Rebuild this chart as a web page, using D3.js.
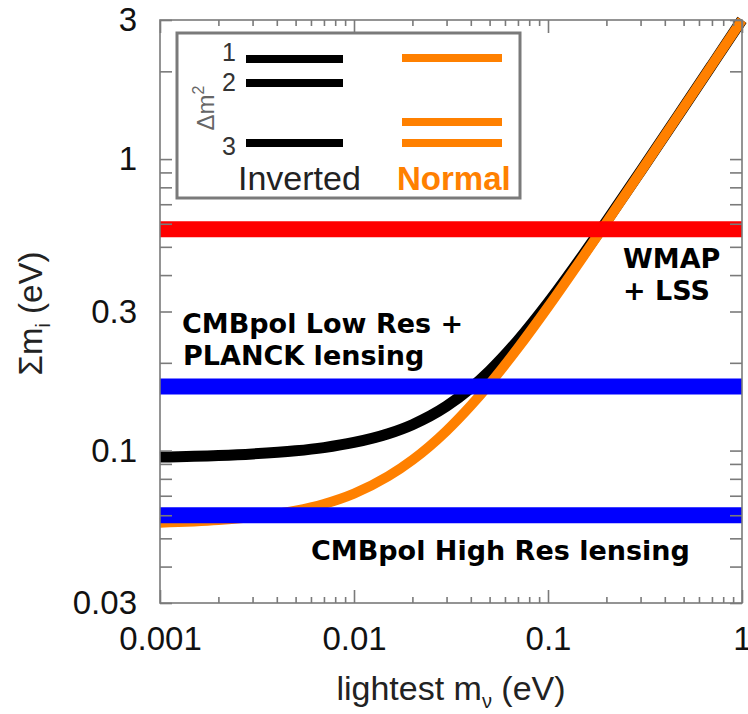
<!DOCTYPE html>
<html><head><meta charset="utf-8">
<script src="https://cdn.jsdelivr.net/npm/d3@7"></script>
<style>
body{margin:0;background:#fff;}
svg{display:block;}
</style></head>
<body>
<svg id="chart" width="748" height="714"></svg>
<script>
// ---- data ----
const lightestMass = [0.001,0.002,0.003,0.005,0.007,0.01,0.015,0.02,0.03,0.04,0.05,0.07,0.1,0.15,0.2,0.3,0.5,0.7,1];
const sumNormal    = [0.0566,0.0578,0.0592,0.0622,0.0656,0.0712,0.0816,0.0928,0.1169,0.1426,0.1693,0.2248,0.3108,0.4574,0.6056,0.9038,1.5023,2.103,3.002];
const sumInverted  = [0.0950,0.0962,0.0974,0.0998,0.1024,0.1066,0.1142,0.1227,0.1420,0.1639,0.1877,0.2390,0.3212,0.4646,0.6110,0.9074,1.5045,2.1032,3.0022];

const bandNames  = ["WMAP + LSS","CMBpol Low Res + PLANCK lensing","CMBpol High Res lensing"];
const bandValues = [0.575, 0.166, 0.060];
const bandColors = ["#ff0000","#0000ff","#0000ff"];

const xMajorTicks = [0.001,0.01,0.1,1];
const xTickLabels = ["0.001","0.01","0.1","1"];
const xMinorTicks = [0.002,0.003,0.004,0.005,0.006,0.007,0.008,0.009,
                     0.02,0.03,0.04,0.05,0.06,0.07,0.08,0.09,
                     0.2,0.3,0.4,0.5,0.6,0.7,0.8,0.9];
const yTicks = [0.03,0.04,0.05,0.06,0.07,0.08,0.09,0.1,0.2,0.3,0.4,0.5,0.6,0.7,0.8,0.9,1,2,3];
const yLabelTicks = [0.03,0.1,0.3,1,3];
const yTickLabels = ["0.03","0.1","0.3","1","3"];

// ---- layout ----
const L=160, R=742, T=20, B=603;
const svg = d3.select("#chart");
const x = d3.scaleLog().domain([0.001,1]).range([L,R]);
const y = d3.scaleLog().domain([0.03,3]).range([B,T]);
const sans = "'Liberation Sans', Arial, Helvetica, sans-serif";
const boldF = "'DejaVu Sans', Verdana, sans-serif";
const axisCol = "#7a7a7a";

// curves
const line = d3.line().x((d,i)=>x(lightestMass[i])).y(d=>y(d)).curve(d3.curveMonotoneX);
svg.append("path").attr("d", line(sumInverted)).attr("fill","none")
  .attr("stroke","#000").attr("stroke-width",11).attr("stroke-linecap","butt");
svg.append("path").attr("d", line(sumNormal)).attr("fill","none")
  .attr("stroke","#ff8000").attr("stroke-width",10).attr("stroke-linecap","butt");

// bands
svg.selectAll("line.band").data(bandValues).enter().append("line")
  .attr("class","band")
  .attr("x1",L).attr("x2",R)
  .attr("y1",d=>y(d)).attr("y2",d=>y(d))
  .attr("stroke",(d,i)=>bandColors[i]).attr("stroke-width",16);

// frame
svg.append("rect").attr("x",L).attr("y",T).attr("width",R-L).attr("height",B-T)
  .attr("fill","none").attr("stroke",axisCol).attr("stroke-width",1.6);

// ticks (inward, on all four sides)
function styleAxis(g){ g.select(".domain").remove(); g.selectAll("line").attr("stroke",axisCol).attr("stroke-width",1.6); }
svg.append("g").attr("transform",`translate(0,${B})`)
  .call(d3.axisBottom(x).tickValues(xMajorTicks).tickSize(-13).tickFormat("")).call(styleAxis);
svg.append("g").attr("transform",`translate(0,${B})`)
  .call(d3.axisBottom(x).tickValues(xMinorTicks).tickSize(-6).tickFormat("")).call(styleAxis);
svg.append("g").attr("transform",`translate(0,${T})`)
  .call(d3.axisTop(x).tickValues(xMajorTicks).tickSize(-13).tickFormat("")).call(styleAxis);
svg.append("g").attr("transform",`translate(0,${T})`)
  .call(d3.axisTop(x).tickValues(xMinorTicks).tickSize(-6).tickFormat("")).call(styleAxis);
svg.append("g").attr("transform",`translate(${L},0)`)
  .call(d3.axisLeft(y).tickValues(yTicks).tickSize(-12).tickFormat("")).call(styleAxis);
svg.append("g").attr("transform",`translate(${R},0)`)
  .call(d3.axisRight(y).tickValues(yTicks).tickSize(-12).tickFormat("")).call(styleAxis);

// tick labels
const xl = svg.append("g").attr("transform",`translate(0,${B})`)
  .call(d3.axisBottom(x).tickValues(xMajorTicks).tickSize(0).tickPadding(24)
        .tickFormat((d,i)=>xTickLabels[i]));
xl.select(".domain").remove();
xl.selectAll("text").attr("font-family",sans).attr("font-size",33).attr("fill","#111");
const yl = svg.append("g").attr("transform",`translate(${L},0)`)
  .call(d3.axisLeft(y).tickValues(yLabelTicks).tickSize(0).tickPadding(23)
        .tickFormat((d,i)=>yTickLabels[i]));
yl.select(".domain").remove();
yl.selectAll("text").attr("font-family",sans).attr("font-size",33).attr("fill","#111");

// axis titles
const xt = svg.append("text").attr("x",(L+R)/2).attr("y",700).attr("text-anchor","middle")
  .attr("font-family",sans).attr("font-size",34).attr("fill","#222");
xt.append("tspan").text("lightest m");
xt.append("tspan").attr("font-size",20).attr("dy",8).text("ν");
xt.append("tspan").attr("dy",-8).text(" (eV)");

const yt = svg.append("text").attr("transform",`translate(42,${(T+B)/2+2}) rotate(-90)`)
  .attr("text-anchor","middle").attr("font-family",sans).attr("font-size",33).attr("fill","#222");
yt.append("tspan").text("Σm");
yt.append("tspan").attr("font-size",20).attr("dy",8).text("i");
yt.append("tspan").attr("dy",-8).text(" (eV)");

// band labels
const lab = (t,xx,yy)=>svg.append("text").attr("x",xx).attr("y",yy).text(t)
  .attr("font-family",boldF).attr("font-weight","bold").attr("font-size",27).attr("fill","#000");
lab("WMAP",623,268);
lab("+ LSS",623,300);
lab("CMBpol Low Res +",182,333);
lab("PLANCK lensing",183,365);
lab("CMBpol High Res lensing",311,560);

// legend
const legInvY = [59,83,143];
const legNormY = [58,122,143];
const legNums = ["1","2","3"];
const legNumY = [61,91,155];
svg.append("rect").attr("x",177).attr("y",33).attr("width",343).attr("height",165)
  .attr("fill","#fff").attr("stroke",axisCol).attr("stroke-width",3);
svg.selectAll("line.li").data(legInvY).enter().append("line").attr("class","li")
  .attr("x1",246).attr("x2",343).attr("y1",d=>d).attr("y2",d=>d)
  .attr("stroke","#000").attr("stroke-width",8);
svg.selectAll("line.ln").data(legNormY).enter().append("line").attr("class","ln")
  .attr("x1",402).attr("x2",502).attr("y1",d=>d).attr("y2",d=>d)
  .attr("stroke","#ff8000").attr("stroke-width",8);
svg.selectAll("text.num").data(legNums).enter().append("text").attr("class","num")
  .attr("x",236).attr("y",(d,i)=>legNumY[i]).attr("text-anchor","end")
  .attr("font-family",sans).attr("font-size",25).attr("fill","#333").text(d=>d);
const dm = svg.append("text").attr("transform","translate(214,108) rotate(-90)")
  .attr("text-anchor","middle").attr("font-family",sans).attr("font-size",24).attr("fill","#666");
dm.append("tspan").text("Δm");
dm.append("tspan").attr("font-size",16).attr("dy",-10).text("2");
svg.append("text").attr("x",238).attr("y",190).attr("font-family",sans).attr("font-size",34)
  .attr("fill","#222").text("Inverted");
svg.append("text").attr("x",397).attr("y",190).attr("font-family",sans).attr("font-size",33)
  .attr("font-weight","bold").attr("fill","#ff8000").text("Normal");
</script>
</body></html>
